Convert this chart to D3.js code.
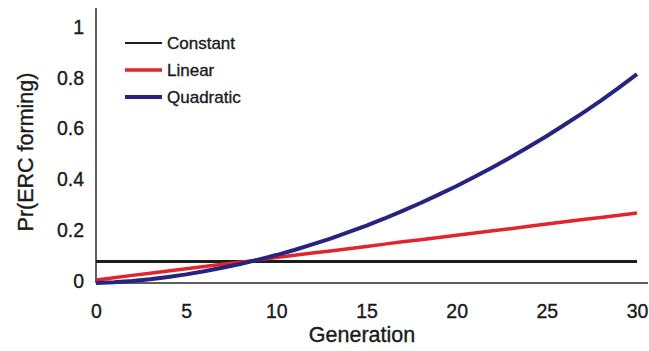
<!DOCTYPE html>
<html>
<head>
<meta charset="utf-8">
<script src="https://cdn.jsdelivr.net/npm/d3@7"></script>
<style>
  html, body { margin: 0; padding: 0; background: #fff; }
  text { font-family: "Liberation Sans", Arial, sans-serif; fill: #1a1a1a; stroke: #1a1a1a; stroke-width: 0.35px; }
</style>
</head>
<body>
<svg id="chart" width="649" height="351"></svg>
<script>
    // Data
    var generations = [0, 1, 2, 3, 4, 5, 6, 7, 8, 9, 10, 11, 12, 13, 14, 15,
        16, 17, 18, 19, 20, 21, 22, 23, 24, 25, 26, 27, 28, 29, 30];
    var constantValues = [0.085, 0.085, 0.085, 0.085, 0.085, 0.085, 0.085, 0.085, 0.085, 0.085, 0.085,
        0.085, 0.085, 0.085, 0.085, 0.085, 0.085, 0.085, 0.085, 0.085, 0.085,
        0.085, 0.085, 0.085, 0.085, 0.085, 0.085, 0.085, 0.085, 0.085, 0.085];
    var linearValues = [0.012, 0.021, 0.030, 0.038, 0.047, 0.056, 0.065, 0.074, 0.082, 0.091, 0.100,
        0.109, 0.118, 0.126, 0.135, 0.144, 0.153, 0.162, 0.170, 0.179, 0.188,
        0.197, 0.206, 0.214, 0.223, 0.232, 0.241, 0.250, 0.258, 0.267, 0.276];
    var quadraticValues = [0.000, 0.003, 0.008, 0.015, 0.024, 0.034, 0.046, 0.060, 0.075, 0.092, 0.110,
        0.130, 0.152, 0.175, 0.200, 0.226, 0.254, 0.284, 0.315, 0.348, 0.382,
        0.418, 0.456, 0.495, 0.536, 0.579, 0.624, 0.670, 0.718, 0.769, 0.822];
    var xTicks = [0, 5, 10, 15, 20, 25, 30];
    var yTicks = [0, 0.2, 0.4, 0.6, 0.8, 1];

    var series = [
        { name: "Constant", values: constantValues, color: "#1c1c1c", width: 3, legendWidth: 2 },
        { name: "Linear", values: linearValues, color: "#e0262b", width: 3.5, legendWidth: 3.5 },
        { name: "Quadratic", values: quadraticValues, color: "#272380", width: 4, legendWidth: 4 }
    ];

    var svg = d3.select("#chart");

    var xScale = d3.scaleLinear().domain([0, 30]).range([96, 637]);
    var yScale = d3.scaleLinear().domain([0, 1]).range([283, 29]);

    // Axes (no tick marks, just labels)
    svg.append("line")
        .attr("x1", 96).attr("x2", 96)
        .attr("y1", 8).attr("y2", 283)
        .attr("stroke", "#2a2a2a").attr("stroke-width", 1.5);
    svg.append("line")
        .attr("x1", 96).attr("x2", 648)
        .attr("y1", 283).attr("y2", 283)
        .attr("stroke", "#2a2a2a").attr("stroke-width", 1.5);

    var yAxis = d3.axisLeft(yScale).tickValues(yTicks).tickSize(0).tickPadding(12)
        .tickFormat(function(d) { return d === 0 || d === 1 ? String(d) : d3.format(".1f")(d); });
    var gy = svg.append("g").attr("transform", "translate(96,-2)").call(yAxis);
    gy.select(".domain").remove();
    gy.selectAll("text").attr("font-size", 19.5).attr("font-family", "Liberation Sans, Arial, sans-serif").attr("fill", "#1a1a1a");

    var xAxis = d3.axisBottom(xScale).tickValues(xTicks).tickSize(0).tickPadding(21);
    var gx = svg.append("g").attr("transform", "translate(0,283)").call(xAxis);
    gx.select(".domain").remove();
    gx.selectAll("text").attr("font-size", 19.5).attr("font-family", "Liberation Sans, Arial, sans-serif").attr("fill", "#1a1a1a");

    // Axis titles
    svg.append("text")
        .attr("x", 362).attr("y", 342)
        .attr("text-anchor", "middle")
        .attr("font-size", 21.5)
        .text("Generation");
    svg.append("text")
        .attr("transform", "translate(33,152) rotate(-90)")
        .attr("text-anchor", "middle")
        .attr("font-size", 21.5)
        .text("Pr(ERC forming)");

    // Lines
    var line = d3.line()
        .x(function(d) { return xScale(d[0]); })
        .y(function(d) { return yScale(d[1]); });

    series.forEach(function(s) {
        var pts = generations.map(function(g, i) { return [g, s.values[i]]; });
        svg.append("path")
            .datum(pts)
            .attr("d", line)
            .attr("fill", "none")
            .attr("stroke", s.color)
            .attr("stroke-width", s.width)
            .attr("stroke-linejoin", "round");
    });

    // Legend
    var legend = svg.append("g").attr("transform", "translate(125,43)");
    series.forEach(function(s, i) {
        var row = legend.append("g").attr("transform", "translate(0," + (i * 27) + ")");
        row.append("line")
            .attr("x1", 0).attr("x2", 37)
            .attr("y1", 0).attr("y2", 0)
            .attr("stroke", s.color)
            .attr("stroke-width", s.legendWidth);
        row.append("text")
            .attr("x", 42).attr("y", 6)
            .attr("font-size", 17)
            .text(s.name);
    });
</script>
</body>
</html>
